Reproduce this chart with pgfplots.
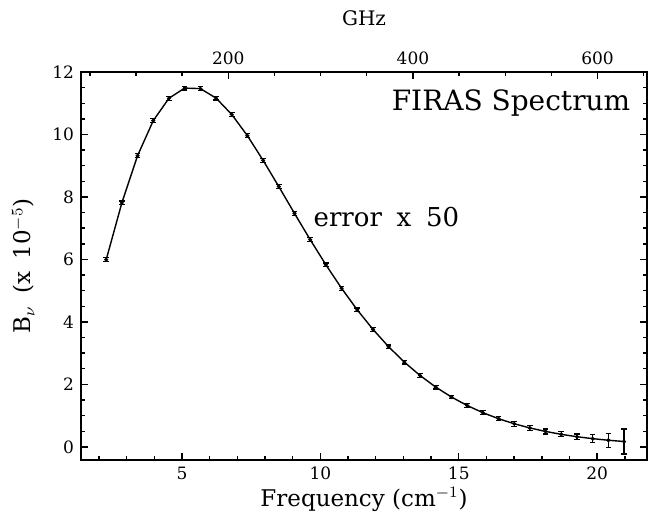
\documentclass[border=0pt]{standalone}
\usepackage{pgfplots}
\pgfplotsset{compat=1.18}
\usepackage{fontspec}
\setmainfont{DejaVu Serif}
\usetikzlibrary{calc}
\pgfplotstableread{
x y e
2.260 5.991 0.06
2.827 7.812 0.06
3.394 9.321 0.06
3.961 10.443 0.06
4.528 11.159 0.06
5.095 11.485 0.06
5.662 11.468 0.06
6.229 11.165 0.06
6.796 10.641 0.06
7.363 9.959 0.06
7.930 9.172 0.06
8.497 8.331 0.06
9.064 7.474 0.06
9.631 6.632 0.06
10.198 5.829 0.06
10.765 5.076 0.06
11.332 4.385 0.06
11.899 3.761 0.06
12.466 3.204 0.06
13.033 2.713 0.06
13.600 2.285 0.06
14.167 1.914 0.06
14.734 1.596 0.06
15.301 1.325 0.06
15.868 1.095 0.07
16.435 0.902 0.07
17.002 0.740 0.08
17.569 0.605 0.08
18.136 0.494 0.08
18.703 0.401 0.08
19.270 0.325 0.09
19.837 0.263 0.13
20.404 0.212 0.22
20.971 0.171 0.40
}\firas
\begin{document}
\begin{tikzpicture}
\begin{axis}[
  name=ax,
  scale only axis,
  width=283pt, height=194pt,
  xmin=1.35, xmax=21.8,
  ymin=-0.42, ymax=12,
  axis line style={line width=1pt},
  tick align=inside,
  xtick pos=bottom,
  ytick pos=both,
  yticklabel pos=left,
  xtick={5,10,15,20},
  minor xtick={2,3,4,6,7,8,9,11,12,13,14,16,17,18,19,21},
  ytick={0,2,4,6,8,10,12},
  minor ytick={0.5,1,...,11.5},
  major tick length=3.5pt,
  minor tick length=2pt,
  every tick/.style={black, line width=0.7pt},
  tick label style={font=\fontsize{8.5}{9}\selectfont},
  /pgf/number format/assume math mode=true,
  xlabel={Frequency (cm$^{-1}$)},
  ylabel={B$_\nu$\hspace{0.25em} (x\hspace{0.2em} 10$^{-5}$)},
  label style={font=\fontsize{11.5}{13}\selectfont},
  xlabel style={yshift=3pt},
  ylabel style={yshift=2pt},
]
\addplot[black, line width=0.7pt, sharp plot, mark=*, mark size=0.6pt,
  error bars/.cd, y dir=both, y explicit,
  error bar style={line width=0.6pt},
  error mark options={rotate=90, mark size=1.4pt, line width=0.6pt}]
  table[x=x, y=y, y error=e]{\firas};
\node[anchor=east, font=\fontsize{14}{16}\selectfont] at (axis cs:21.45,11.0) {FIRAS Spectrum};
\node[anchor=west, font=\fontsize{13}{15}\selectfont] at (axis cs:9.5,7.36) {error\hspace{0.25em} x\hspace{0.25em} 50};
\end{axis}
\begin{axis}[
  scale only axis,
  width=283pt, height=194pt,
  xmin=1.35, xmax=21.8,
  ymin=-0.42, ymax=12,
  axis x line*=top,
  axis y line=none,
  axis line style={line width=1pt},
  tick align=inside,
  xtick={6.671,13.343,20.014},
  xticklabels={200,400,600},
  minor xtick={1.668,3.336,5.003,8.339,10.007,11.675,15.010,16.678,18.346,21.682},
  major tick length=3.5pt,
  minor tick length=2pt,
  every tick/.style={black, line width=0.7pt},
  tick label style={font=\fontsize{8.5}{9}\selectfont},
  xlabel={GHz},
  label style={font=\fontsize{10}{12}\selectfont},
  xlabel style={yshift=6.5pt},
]
\addplot[draw=none] coordinates {(5,5)};
\end{axis}
\pgfresetboundingbox
\path[use as bounding box] ($(ax.south west)+(-40.5pt,-26.5pt)$) rectangle ($(ax.north east)+(1pt,36pt)$);
\end{tikzpicture}
\end{document}
